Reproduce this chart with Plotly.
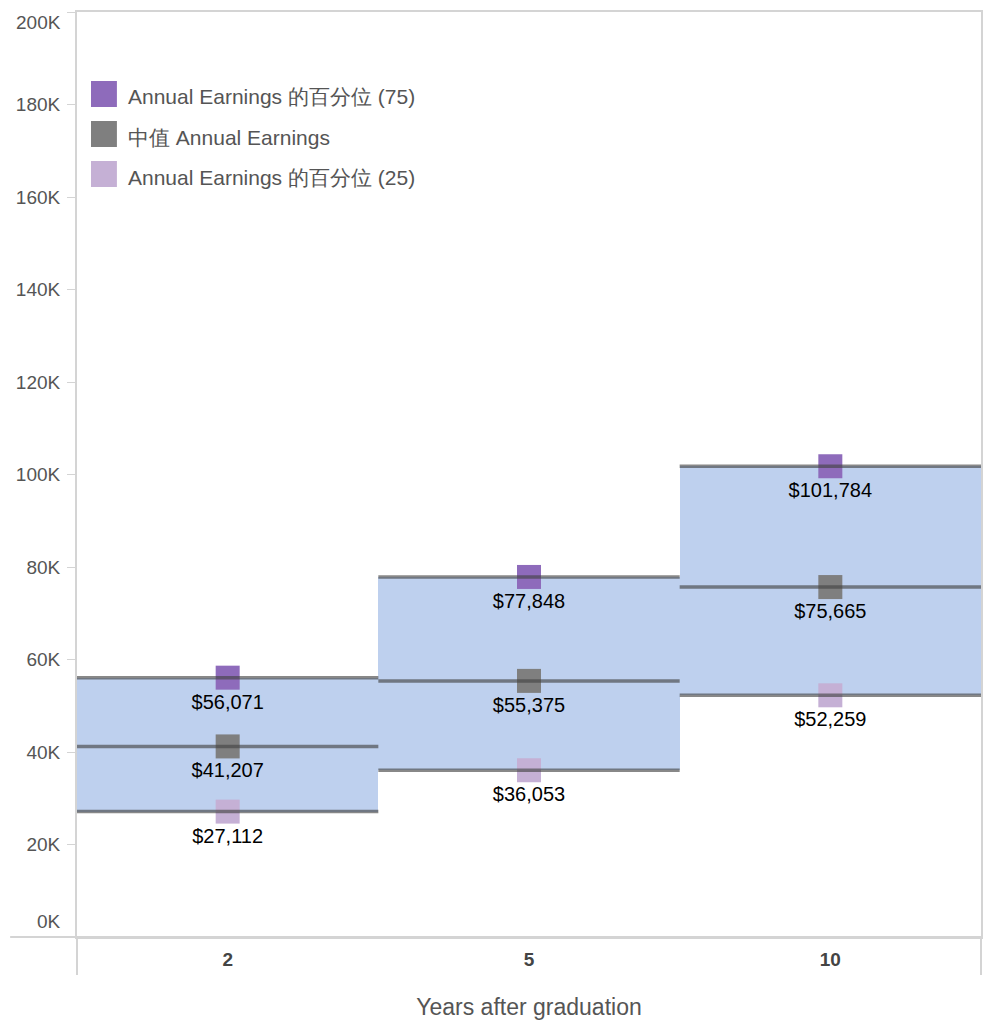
import plotly.graph_objects as go

years = ["2", "5", "10"]
p75 = [56071, 77848, 101784]
median = [41207, 55375, 75665]
p25 = [27112, 36053, 52259]
y_ticks = [0, 20000, 40000, 60000, 80000, 100000, 120000, 140000, 160000, 180000, 200000]
y_labels = ["0K", "20K", "40K", "60K", "80K", "100K", "120K", "140K", "160K", "180K", "200K"]
series_names = ["Annual Earnings 的百分位 (75)", "中值 Annual Earnings", "Annual Earnings 的百分位 (25)"]

xs = list(range(len(years)))
FONT = "Liberation Sans, Arial, sans-serif"

# figure geometry (body has an 8px margin in the page)
W, H = 976, 1016
L, R, T, B = 69, 1, 4, 87
PW, PH = W - L - R, H - T - B

def px_x(ax):  # absolute page x -> paper
    return (ax - 8 - L) / PW

def px_y(ay):  # absolute page y -> paper
    return (H - B - (ay - 8)) / PH

fig = go.Figure()

# band between 25th and 75th percentile
fig.add_trace(go.Bar(
    x=xs, y=[a - b for a, b in zip(p75, p25)], base=p25, width=1.0,
    marker=dict(color="#bed0ee", line=dict(width=0)), showlegend=False, hoverinfo="skip"))

mcols = ["#8e6bbb", "#7f7f7f", "#c5b0d5"]
for vals, mc, nm in zip([p75, median, p25], mcols, series_names):
    fig.add_trace(go.Scatter(
        x=xs, y=vals, mode="markers+text", name=nm, showlegend=False,
        marker=dict(symbol="square", size=24, color=mc, line=dict(width=0)),
        text=[f"${v:,}" for v in vals], textposition="bottom center",
        textfont=dict(family=FONT, size=20, color="#000000")))

def seg(vals):
    X, Y = [], []
    for i, v in enumerate(vals):
        X += [i - 0.5, i + 0.5, None]
        Y += [v, v, None]
    return X, Y

for vals in [p75, median, p25]:
    X, Y = seg(vals)
    fig.add_trace(go.Scatter(x=X, y=Y, mode="lines",
                             line=dict(color="rgba(67,67,67,0.63)", width=3.5),
                             showlegend=False, hoverinfo="skip"))

fig.update_layout(
    width=W, height=H,
    margin=dict(l=L, r=R, t=T, b=B),
    plot_bgcolor="white", paper_bgcolor="white",
    bargap=0, showlegend=False,
    font=dict(family=FONT, color="#555555"),
    xaxis=dict(range=[-0.5, 2.5], tickmode="array", tickvals=xs,
               ticktext=[f"<b>{y}</b>" for y in years],
               tickfont=dict(family=FONT, size=19, color="#444444"),
               showgrid=False, zeroline=False, showline=True, linecolor="#d4d4d4",
               linewidth=2, mirror=True, ticks="", ticklabelstandoff=4,
               title=dict(text="Years after graduation", standoff=30,
                          font=dict(family=FONT, size=23, color="#555555"))),
    yaxis=dict(range=[0, 200000], tickmode="array", tickvals=y_ticks,
               ticktext=["" if i in (0, len(y_labels) - 1) else t for i, t in enumerate(y_labels)],
               tickfont=dict(family=FONT, size=19, color="#555555"),
               showgrid=False, zeroline=False, showline=True, linecolor="#d4d4d4",
               linewidth=2, mirror=True, ticks="outside", ticklen=8, tickcolor="#d4d4d4",
               ticklabelstandoff=3),
)

# end labels shifted inside the plot like the original
fig.add_annotation(x=0, xref="paper", y=y_ticks[0], yref="y", text=y_labels[0],
                   xanchor="right", yanchor="middle", xshift=-14, yshift=16, showarrow=False,
                   font=dict(family=FONT, size=19, color="#555555"))
fig.add_annotation(x=0, xref="paper", y=y_ticks[-1], yref="y", text=y_labels[-1],
                   xanchor="right", yanchor="middle", xshift=-14, yshift=-10, showarrow=False,
                   font=dict(family=FONT, size=19, color="#555555"))

# custom legend
for i, (nm, mc) in enumerate(zip(series_names, mcols)):
    cy = 94 + 40 * i
    fig.add_shape(type="rect", xref="paper", yref="paper",
                  x0=px_x(91), x1=px_x(117), y0=px_y(cy + 13), y1=px_y(cy - 13),
                  fillcolor=mc, line=dict(width=0))
    fig.add_annotation(x=px_x(126), y=px_y(cy), xref="paper", yref="paper", text=nm,
                       xanchor="left", yanchor="middle", yshift=-3, showarrow=False,
                       font=dict(family=FONT, size=21, color="#555555"))

# extended axis lines (header divisions)
fig.add_shape(type="line", xref="paper", yref="paper", x0=px_x(10), x1=1, y0=0, y1=0,
              line=dict(color="#d4d4d4", width=2))
fig.add_shape(type="line", xref="paper", yref="paper", x0=0, x1=0, y0=0, y1=px_y(975),
              line=dict(color="#d4d4d4", width=2))
fig.add_shape(type="line", xref="paper", yref="paper", x0=1, x1=1, y0=0, y1=px_y(975),
              line=dict(color="#d4d4d4", width=2))

fig.write_html("out.html")
